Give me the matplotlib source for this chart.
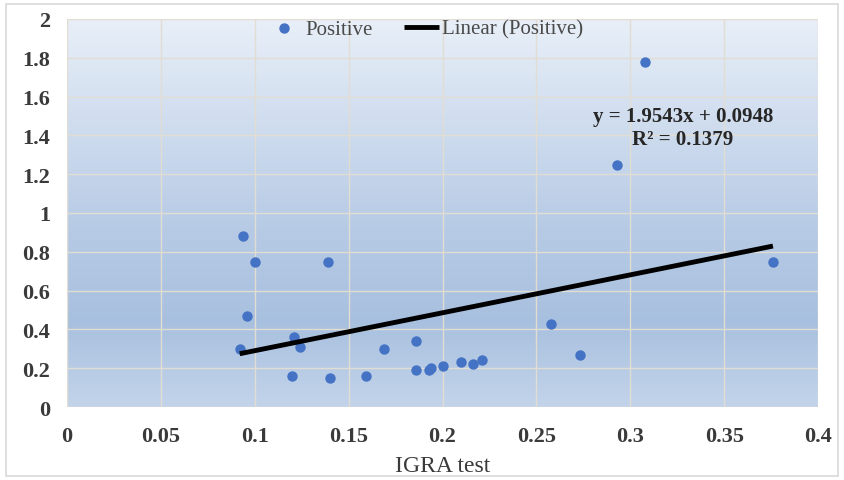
import numpy as np
import matplotlib
matplotlib.use('Agg')
import matplotlib.pyplot as plt
from matplotlib.colors import LinearSegmentedColormap
from matplotlib.patches import Rectangle

igra = [0.092, 0.094, 0.096, 0.100, 0.121, 0.124, 0.120, 0.139, 0.140,
        0.159, 0.169, 0.186, 0.186, 0.193, 0.194, 0.200, 0.210, 0.216,
        0.221, 0.258, 0.273, 0.293, 0.308, 0.376]
positive = [0.30, 0.88, 0.47, 0.75, 0.36, 0.31, 0.16, 0.75, 0.15,
            0.16, 0.30, 0.34, 0.19, 0.19, 0.20, 0.21, 0.23, 0.22,
            0.24, 0.43, 0.27, 1.25, 1.78, 0.75]

# Excel trendline as printed on the chart
slope = 1.9543
intercept = 0.0948
r2 = 0.1379

xticks = [0, 0.05, 0.1, 0.15, 0.2, 0.25, 0.3, 0.35, 0.4]
xticklabels = ['0', '0.05', '0.1', '0.15', '0.2', '0.25', '0.3', '0.35', '0.4']
yticks = [0, 0.2, 0.4, 0.6, 0.8, 1, 1.2, 1.4, 1.6, 1.8, 2]
yticklabels = ['0', '0.2', '0.4', '0.6', '0.8', '1', '1.2', '1.4', '1.6', '1.8', '2']

serif = ['Liberation Serif', 'DejaVu Serif']

fig = plt.figure(figsize=(8.44, 4.81), dpi=100)
fig.patch.set_facecolor('white')
# light frame around the whole chart
fig.patches.append(Rectangle((0.007, 0.008), 0.986, 0.981, transform=fig.transFigure,
                             fill=False, edgecolor='#d9d9d9', linewidth=1.2))

ax = fig.add_axes([67 / 844, 1 - 408 / 481, (818 - 67) / 844, (408 - 20) / 481])

# gradient background (light at top, darker in the middle, lighter at the bottom)
cmap = LinearSegmentedColormap.from_list('bg', [(0.0, '#c3d4ea'), (0.22, '#a8c0df'),
                                                (0.45, '#b6cae5'), (1.0, '#e8eff8')])
grad = np.linspace(0, 1, 256).reshape(-1, 1)
ax.imshow(grad, extent=[0, 1, 0, 1], transform=ax.transAxes, origin='lower',
          aspect='auto', cmap=cmap, zorder=0)

ax.set_xlim(0, 0.4)
ax.set_ylim(0, 2)
ax.set_xticks(xticks)
ax.set_xticklabels(xticklabels)
ax.set_yticks(yticks)
ax.set_yticklabels(yticklabels)
ax.grid(True, color='#e2ddd2', linewidth=1.0, zorder=1)
ax.set_axisbelow(False)
for s in ax.spines.values():
    s.set_visible(False)
ax.tick_params(length=0)
ax.tick_params(axis='x', pad=14)
ax.tick_params(axis='y', pad=12)
for lab in ax.get_xticklabels() + ax.get_yticklabels():
    lab.set_family(serif)
    lab.set_fontweight('bold')
    lab.set_fontsize(16)
    lab.set_color('#3a3a3a')

ax.scatter(igra, positive, s=42, color='#4472c4', zorder=3, label='Positive')

xfit = np.array([min(igra), max(igra)])
ax.plot(xfit, slope * xfit + intercept, color='black', linewidth=3.5, zorder=4,
        solid_capstyle='butt', label='Linear (Positive)')

ax.text(0.328, 1.44, 'y = %.4fx + %.4f\nR² = %.4f' % (slope, intercept, r2),
        ha='center', va='center', family=serif, fontweight='bold', fontsize=15,
        color='#262626', linespacing=1.2, zorder=5)

ax.set_xlabel('IGRA test', family=serif, fontsize=17, color='#3a3a3a', labelpad=6)

leg = ax.legend(loc='center left', bbox_to_anchor=(0.266, 0.974), ncol=2, frameon=False,
                prop={'family': serif, 'size': 15}, handlelength=1.7,
                columnspacing=1.5, handletextpad=0.15, borderpad=0, borderaxespad=0)
for t in leg.get_texts():
    t.set_color('#4a4a4a')

plt.savefig('out.png', dpi=100)
